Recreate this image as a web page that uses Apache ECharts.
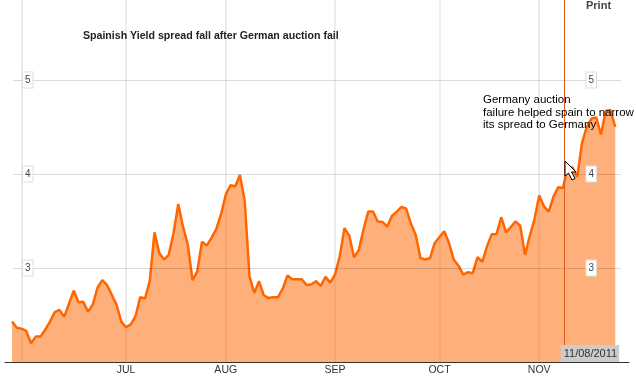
<!DOCTYPE html>
<html>
<head>
<meta charset="utf-8">
<style>
  html, body { margin: 0; padding: 0; background: #fff; }
  #chart { width: 636px; height: 376px; }
</style>
<script src="https://cdn.jsdelivr.net/npm/echarts@6/dist/echarts.min.js"></script>
</head>
<body>
<div id="chart"></div>
<script>
// trading days, May 30 to Nov 23 2011
const dates = [
  '05/30/2011', '05/31/2011',
  '06/01/2011', '06/02/2011', '06/03/2011', '06/06/2011', '06/07/2011', '06/08/2011', '06/09/2011', '06/10/2011',
  '06/13/2011', '06/14/2011', '06/15/2011', '06/16/2011', '06/17/2011', '06/20/2011', '06/21/2011', '06/22/2011',
  '06/23/2011', '06/24/2011', '06/27/2011', '06/28/2011', '06/29/2011', '06/30/2011',
  '07/01/2011', '07/04/2011', '07/05/2011', '07/06/2011', '07/07/2011', '07/08/2011', '07/11/2011', '07/12/2011',
  '07/13/2011', '07/14/2011', '07/15/2011', '07/18/2011', '07/19/2011', '07/20/2011', '07/21/2011', '07/22/2011',
  '07/25/2011', '07/26/2011', '07/27/2011', '07/28/2011', '07/29/2011',
  '08/01/2011', '08/02/2011', '08/03/2011', '08/04/2011', '08/05/2011', '08/08/2011', '08/09/2011', '08/10/2011',
  '08/11/2011', '08/12/2011', '08/15/2011', '08/16/2011', '08/17/2011', '08/18/2011', '08/19/2011', '08/22/2011',
  '08/23/2011', '08/24/2011', '08/25/2011', '08/26/2011', '08/29/2011', '08/30/2011', '08/31/2011',
  '09/01/2011', '09/02/2011', '09/05/2011', '09/06/2011', '09/07/2011', '09/08/2011', '09/09/2011', '09/12/2011',
  '09/13/2011', '09/14/2011', '09/15/2011', '09/16/2011', '09/19/2011', '09/20/2011', '09/21/2011', '09/22/2011',
  '09/23/2011', '09/26/2011', '09/27/2011', '09/28/2011', '09/29/2011', '09/30/2011',
  '10/03/2011', '10/04/2011', '10/05/2011', '10/06/2011', '10/07/2011', '10/10/2011', '10/11/2011', '10/12/2011',
  '10/13/2011', '10/14/2011', '10/17/2011', '10/18/2011', '10/19/2011', '10/20/2011', '10/21/2011', '10/24/2011',
  '10/25/2011', '10/26/2011', '10/27/2011', '10/28/2011', '10/31/2011',
  '11/01/2011', '11/02/2011', '11/03/2011', '11/04/2011', '11/07/2011', '11/08/2011', '11/09/2011', '11/10/2011',
  '11/11/2011', '11/14/2011', '11/15/2011', '11/16/2011', '11/17/2011', '11/18/2011', '11/21/2011', '11/22/2011',
  '11/23/2011'
];
const spread = [
  2.43, 2.365, 2.355, 2.33, 2.20, 2.27, 2.27, 2.345, 2.43, 2.53, 2.555, 2.48, 2.62, 2.76, 2.635, 2.64,
  2.535, 2.61, 2.79, 2.87, 2.82, 2.715, 2.61, 2.43, 2.37, 2.40, 2.485, 2.69, 2.675, 2.86, 3.38, 3.16,
  3.09, 3.14, 3.37, 3.68, 3.44, 3.25, 2.87, 2.965, 3.28, 3.24, 3.32, 3.415, 3.57, 3.78, 3.88, 3.87,
  3.99, 3.71, 2.91, 2.735, 2.86, 2.71, 2.68, 2.69, 2.69, 2.78, 2.92, 2.88, 2.88, 2.88, 2.82, 2.825,
  2.86, 2.81, 2.905, 2.845, 2.93, 3.125, 3.425, 3.345, 3.115, 3.19, 3.41, 3.60, 3.60, 3.495, 3.49, 3.44,
  3.555, 3.60, 3.65, 3.63, 3.47, 3.35, 3.105, 3.09, 3.106, 3.266, 3.33, 3.39, 3.266, 3.09, 3.025, 2.93,
  2.955, 2.945, 3.115, 3.065, 3.23, 3.36, 3.36, 3.54, 3.38, 3.435, 3.495, 3.45, 3.14, 3.34, 3.52, 3.77,
  3.655, 3.60, 3.76, 3.86, 3.85, 4.08, 4.07, 3.97, 4.33, 4.50, 4.59, 4.60, 4.42, 4.67, 4.68, 4.50
];
const monthTicks = [2, 24, 45, 68, 90, 111];
const monthLabels = { 24: 'JUL', 45: 'AUG', 68: 'SEP', 90: 'OCT', 111: 'NOV' };
const yTicks = [3, 4, 5];
const markedDay = 116;

const pxPerDay = 4.75;
const plotLeft = 5, plotRight = 629, plotBottom = 362;
const startX = 12;
const yMin = 2, yMax = 2 + 362 / 94;
const font = '"Liberation Sans", Arial, sans-serif';

const boxedLabel = {
  show: true,
  inside: true,
  customValues: yTicks,
  color: '#444',
  fontFamily: font,
  fontSize: 10,
  backgroundColor: '#fff',
  borderColor: '#ddd',
  borderWidth: 1,
  padding: [0, 2, 4, 2],
  verticalAlign: 'middle',
  lineHeight: 11
};

const chart = echarts.init(document.getElementById('chart'), null, { renderer: 'canvas' });
chart.setOption({
  animation: false,
  backgroundColor: '#fff',
  grid: [
    { left: plotLeft, right: 636 - plotRight, top: 0, bottom: 376 - plotBottom },
    { left: 13, right: 15, top: 0, bottom: 376 - plotBottom }
  ],
  xAxis: [
    {
      gridIndex: 0,
      type: 'value',
      min: (plotLeft - startX) / pxPerDay,
      max: (plotRight - startX) / pxPerDay,
      axisLine: { show: true, onZero: false, lineStyle: { color: '#333', width: 1 } },
      axisTick: { show: false, customValues: monthTicks },
      axisLabel: {
        customValues: monthTicks.slice(1),
        formatter: (v) => monthLabels[v] || '',
        color: '#333',
        fontFamily: font,
        fontSize: 10.5,
        margin: 3
      },
      splitLine: { show: true, lineStyle: { color: '#ececec', width: 2 } }
    },
    { gridIndex: 1, type: 'value', min: 0, max: 1, show: false }
  ],
  yAxis: [
    { gridIndex: 0, type: 'value', min: yMin, max: yMax, show: false },
    {
      gridIndex: 1,
      type: 'value',
      position: 'left',
      z: 5,
      min: yMin,
      max: yMax,
      axisLine: { show: false },
      axisTick: { show: false, customValues: yTicks },
      axisLabel: Object.assign({}, boxedLabel, { margin: 10 }),
      splitLine: { show: true, lineStyle: { color: 'rgba(0,0,0,0.14)', width: 1 } }
    },
    {
      gridIndex: 1,
      type: 'value',
      position: 'right',
      z: 5,
      min: yMin,
      max: yMax,
      axisLine: { show: false },
      axisTick: { show: false, customValues: yTicks },
      axisLabel: Object.assign({}, boxedLabel, { margin: 25 }),
      splitLine: { show: false }
    }
  ],
  series: [
    {
      type: 'line',
      xAxisIndex: 0,
      yAxisIndex: 0,
      data: spread.map((v, i) => [i, v]),
      symbol: 'none',
      lineStyle: { color: '#ff6600', width: 2.5 },
      areaStyle: { color: '#ff6600', opacity: 0.52, origin: 'start' },
      z: 3,
      markLine: {
        silent: true,
        symbol: 'none',
        animation: false,
        lineStyle: { color: '#e2571c', width: 1, type: 'solid' },
        label: {
          position: 'start',
          formatter: dates[markedDay],
          distance: 0,
          offset: [25.5, -17],
          color: '#333',
          fontFamily: font,
          fontSize: 11,
          backgroundColor: '#cccccc',
          padding: [3, 2, 3, 3]
        },
        data: [{ xAxis: markedDay + 0.3 }]
      }
    }
  ],
  graphic: [
    {
      type: 'text', left: 83, top: 31, z: 10,
      style: {
        text: 'Spainish Yield spread fall after German auction fail',
        fill: '#222', font: 'bold 10.6px ' + font
      }
    },
    {
      type: 'text', left: 483, top: 94, z: 10,
      style: {
        text: 'Germany auction\nfailure helped spain to narrow\nits spread to Germany',
        fill: '#000', font: '11.5px ' + font, lineHeight: 12.5
      }
    },
    {
      type: 'text', left: 586, top: 0, z: 10,
      style: { text: 'Print', fill: '#444', font: 'bold 11px ' + font }
    },
    {
      // mouse pointer caught in the screenshot
      type: 'polygon', z: 11,
      shape: { points: [[565, 161], [565, 176], [568.5, 173], [572, 180], [575, 178.5], [571.5, 172], [576, 172]] },
      style: { fill: '#fff', stroke: '#000', lineWidth: 1 }
    }
  ]
});
</script>
</body>
</html>
